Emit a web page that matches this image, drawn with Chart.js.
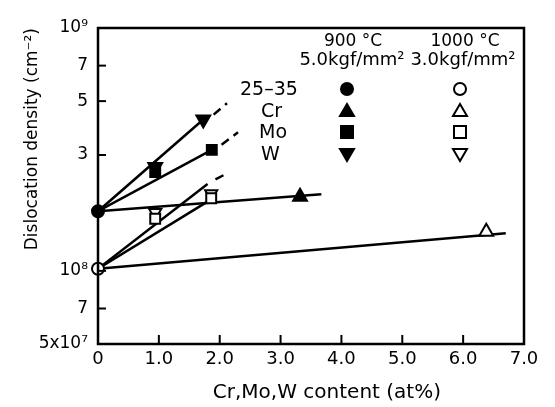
<!DOCTYPE html>
<html>
<head>
<meta charset="utf-8">
<script src="https://cdn.jsdelivr.net/npm/chart.js@4/dist/chart.umd.min.js"></script>
<style>
  html, body { margin: 0; padding: 0; background: #fff; }
  #wrap { width: 555px; height: 407px; position: relative; }
</style>
</head>
<body>
<div id="wrap"><canvas id="c" width="555" height="407"></canvas></div>
<script>
// ---- data ----
const xTicks = [0, 1, 2, 3, 4, 5, 6, 7];
const xTickLabels = ['0', '1.0', '2.0', '3.0', '4.0', '5.0', '6.0', '7.0'];
const yTicks = [5e7, 7e7, 1e8, 3e8, 5e8, 7e8, 1e9];
const yTickLabels = ['5x10\u2077', '7', '10\u2078', '3', '5', '7', '10\u2079'];

// 900 °C, 5.0 kgf/mm2 (filled markers)
const p900Base = [{x: 0, y: 1.76e8}];
const p900Cr   = [{x: 3.32, y: 2.02e8}];
const p900Mo   = [{x: 0.94, y: 2.55e8}, {x: 1.87, y: 3.15e8}];
const p900W    = [{x: 0.94, y: 2.68e8}, {x: 1.73, y: 4.2e8}];
// 1000 °C, 3.0 kgf/mm2 (open markers)
const p1000Base = [{x: 0, y: 1.02e8}];
const p1000Cr   = [{x: 6.38, y: 1.45e8}];
const p1000Mo   = [{x: 0.94, y: 1.64e8}, {x: 1.86, y: 1.99e8}];
const p1000W    = [{x: 0.94, y: 1.74e8}, {x: 1.86, y: 2.08e8}];

// fitted lines (solid) and their dashed extensions
const l900Cr   = [{x: 0, y: 1.76e8}, {x: 3.67, y: 2.07e8}];
const l900Mo   = [{x: 0, y: 1.76e8}, {x: 1.87, y: 3.15e8}];
const l900MoX  = [{x: 2.03, y: 3.31e8}, {x: 2.3, y: 3.72e8}];
const l900W    = [{x: 0, y: 1.76e8}, {x: 1.73, y: 4.2e8}];
const l900WX   = [{x: 1.9, y: 4.4e8}, {x: 2.12, y: 4.9e8}];
const l1000Cr  = [{x: 0, y: 1.02e8}, {x: 6.7, y: 1.43e8}];
const l1000Mo  = [{x: 0, y: 1.02e8}, {x: 1.86, y: 1.97e8}];
const l1000W   = [{x: 0, y: 1.02e8}, {x: 1.8, y: 2.28e8}];
const l1000WX  = [{x: 1.93, y: 2.38e8}, {x: 2.12, y: 2.52e8}];

const FONT = 'DejaVu Sans';

function markerSet(data, style, rot, filled, r) {
  return {
    data, showLine: false, order: 0, clip: false,
    pointStyle: style, rotation: rot || 0,
    pointRadius: r, pointHoverRadius: r,
    pointBackgroundColor: filled ? '#000' : '#fff',
    pointBorderColor: '#000', pointBorderWidth: 2
  };
}
function lineSet(data, dashed) {
  return {
    data, showLine: true, order: 1, pointRadius: 0, pointHoverRadius: 0,
    borderColor: '#000', borderWidth: 2.5, borderDash: dashed ? [9, 6] : [],
    fill: false, tension: 0
  };
}

const frameAndTicks = {
  id: 'frameAndTicks',
  afterDatasetsDraw(chart) {
    const ctx = chart.ctx, a = chart.chartArea;
    const xs = chart.scales.x, ys = chart.scales.y;
    ctx.save();
    ctx.strokeStyle = '#000';
    ctx.lineWidth = 2;
    ys.ticks.forEach(t => {
      if (t.value <= ys.min || t.value >= ys.max) return;
      const p = ys.getPixelForValue(t.value);
      ctx.beginPath(); ctx.moveTo(a.left, p); ctx.lineTo(a.left + 8, p); ctx.stroke();
    });
    xs.ticks.forEach(t => {
      if (t.value <= xs.min || t.value >= xs.max) return;
      const p = xs.getPixelForValue(t.value);
      ctx.beginPath(); ctx.moveTo(p, a.bottom); ctx.lineTo(p, a.bottom - 9); ctx.stroke();
    });
    ctx.lineWidth = 2.5;
    ctx.strokeRect(a.left, a.top, a.right - a.left, a.bottom - a.top);
    ctx.restore();
  }
};

const legendKey = {
  id: 'legendKey',
  afterDatasetsDraw(chart) {
    const ctx = chart.ctx;
    ctx.save();
    ctx.fillStyle = '#000';
    ctx.textBaseline = 'middle';
    ctx.textAlign = 'center';
    ctx.font = '17px "' + FONT + '"';
    ctx.fillText('900 \u00B0C', 353, 42);
    ctx.fillText('1000 \u00B0C', 465, 42);
    ctx.font = '18px "' + FONT + '"';
    ctx.fillText('5.0kgf/mm\u00B2', 352, 60);
    ctx.fillText('3.0kgf/mm\u00B2', 463, 60);
    ctx.font = '19px "' + FONT + '"';
    ctx.textAlign = 'left';
    ctx.fillText('25\u201335', 240, 90);
    ctx.fillText('Cr', 261, 112);
    ctx.fillText('Mo', 259, 133);
    ctx.fillText('W', 261, 155);
    const rows = [
      {y: 89, s: 'circle'}, {y: 111, s: 'triangle'},
      {y: 132, s: 'rect'}, {y: 154, s: 'tri-down'}
    ];
    const draw = (x, y, s, filled) => {
      ctx.beginPath();
      const r = 6;
      if (s === 'circle') ctx.arc(x, y, r, 0, Math.PI * 2);
      else if (s === 'rect') ctx.rect(x - r, y - r, 2 * r, 2 * r);
      else if (s === 'triangle') { ctx.moveTo(x, y - r - 1); ctx.lineTo(x + r + 1, y + r - 1); ctx.lineTo(x - r - 1, y + r - 1); ctx.closePath(); }
      else { ctx.moveTo(x, y + r + 1); ctx.lineTo(x + r + 1, y - r + 1); ctx.lineTo(x - r - 1, y - r + 1); ctx.closePath(); }
      ctx.fillStyle = filled ? '#000' : '#fff';
      ctx.fill();
      ctx.lineWidth = 2; ctx.strokeStyle = '#000'; ctx.stroke();
    };
    rows.forEach(rw => { draw(347, rw.y, rw.s, true); draw(460, rw.y, rw.s, false); });
    ctx.restore();
  }
};

new Chart(document.getElementById('c'), {
  type: 'scatter',
  data: {
    datasets: [
      markerSet(p900Base, 'circle', 0, true, 6),
      markerSet(p900Mo, 'rect', 0, true, 7),
      markerSet(p900W, 'triangle', 180, true, 8),
      markerSet(p900Cr, 'triangle', 0, true, 8),
      markerSet(p1000Base, 'circle', 0, false, 6),
      markerSet(p1000Mo, 'rect', 0, false, 7),
      markerSet(p1000W, 'triangle', 180, false, 7),
      markerSet(p1000Cr, 'triangle', 0, false, 8),
      lineSet(l900Cr, false),
      lineSet(l900Mo, false), lineSet(l900MoX, true),
      lineSet(l900W, false), lineSet(l900WX, true),
      lineSet(l1000Cr, false),
      lineSet(l1000Mo, false),
      lineSet(l1000W, false), lineSet(l1000WX, true)
    ]
  },
  options: {
    responsive: false,
    animation: false,
    events: [],
    layout: { padding: { left: 22, right: 31, top: 28, bottom: 0 } },
    plugins: { legend: { display: false }, tooltip: { enabled: false } },
    scales: {
      x: {
        type: 'linear', min: 0, max: 7,
        afterBuildTicks: s => { s.ticks = xTicks.map(v => ({value: v})); },
        afterFit: s => { s.height = 63; },
        grid: { display: false, drawTicks: false },
        border: { display: false },
        ticks: {
          padding: 5, color: '#000', font: { family: FONT, size: 18 },
          maxRotation: 0, autoSkip: false,
          callback: (v) => xTickLabels[xTicks.indexOf(v)]
        },
        title: {
          display: true, text: '     Cr,Mo,W content (at%)', color: '#000',
          font: { family: FONT, size: 20 }, padding: { top: 5, bottom: 2 }
        }
      },
      y: {
        type: 'logarithmic', min: 5e7, max: 1e9,
        afterBuildTicks: s => { s.ticks = yTicks.map(v => ({value: v})); },
        afterFit: s => { s.width = 76; },
        grid: { display: false, drawTicks: false },
        border: { display: false },
        ticks: {
          padding: 10, color: '#000', font: { family: FONT, size: 17 },
          autoSkip: false,
          callback: (v) => yTickLabels[yTicks.indexOf(v)]
        },
        title: {
          display: true, text: 'Dislocation density (cm\u207B\u00B2)', color: '#000',
          align: 'end', font: { family: FONT, size: 17 }, padding: 0
        }
      }
    }
  },
  plugins: [frameAndTicks, legendKey]
});
</script>
</body>
</html>
